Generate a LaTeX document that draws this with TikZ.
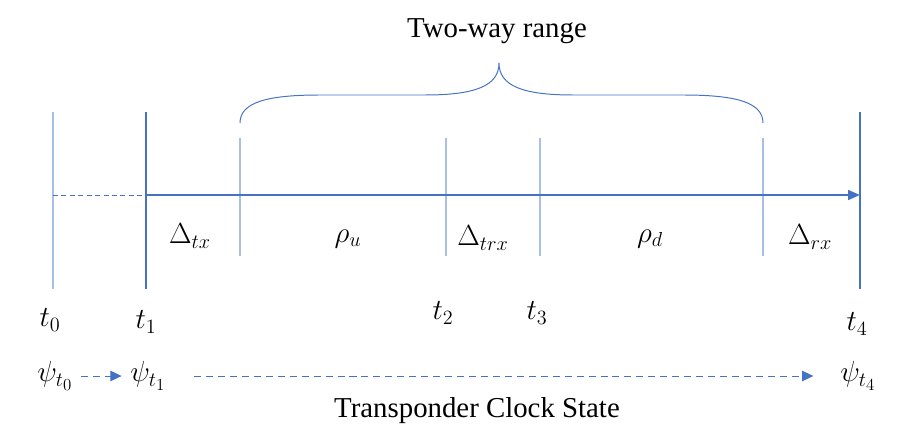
\documentclass[tikz,border=0pt]{standalone}
\usepackage{fontspec}
\setmainfont{Liberation Serif}
\usetikzlibrary{arrows.meta}
\definecolor{axisblue}{HTML}{4472C4}
\definecolor{tickblue}{HTML}{A9BFE6}
\begin{document}
\begin{tikzpicture}
    [%%%%%%%%%%%%%%%%%%%%%%%%%%%%%%
        x=0.025cm, y=-0.025cm,
        mainline/.style={draw=axisblue, line width=1.4pt},
        tickline/.style={draw=tickblue, line width=1.2pt},
        braceline/.style={draw=axisblue, line width=0.7pt},
        dashline/.style={draw=axisblue, line width=0.7pt, dash pattern=on 5pt off 3.5pt},
        timearrow/.style={draw=axisblue, line width=1.5pt, -{Triangle[length=8.5pt,width=7pt]}},
        statearrow/.style={dashline, -{Triangle[length=8pt,width=7.5pt]}},
        lbl/.style={inner sep=1pt, font=\fontsize{20.74}{24}\selectfont},
        title/.style={inner sep=0pt, anchor=base, font=\fontsize{20.5}{24}\selectfont},
    ]%%%%%%%%%%%%%%%%%%%%%%%%%%%%%%
\useasboundingbox (0,0) rectangle (912,445);

\coordinate (a0) at (53,195);
\coordinate (a1) at (146,195);
\coordinate (a4) at (860,195);

\draw[tickline] (53,112) -- (53,289);
\draw[mainline] (146,112) -- (146,289);
\draw[mainline] (860,112) -- (860,289);
\draw[tickline] (240,138) -- (240,256);
\draw[tickline] (446,138) -- (446,256);
\draw[tickline] (540,138) -- (540,256);
\draw[tickline] (763,138) -- (763,256);

\draw[axisblue, line width=0.6pt, dash pattern=on 3.5pt off 2.5pt] (a0) -- (a1);
\draw[timearrow] (a1) -- (a4);

% brace over the two-way range
\draw[braceline] (240,123) .. controls (240,102) and (268,95) .. (320,95)
    -- (425,95) .. controls (475,95) and (499,86) .. (499,63)
    .. controls (499,86) and (523,95) .. (573,95)
    -- (683,95) .. controls (735,95) and (763,102) .. (763,123);
\node[title] (range) at (497,38) {Two-way range};

\node[lbl] (dtx) at (190,236) {$\Delta_{tx}$};
\node[lbl] (rhou) at (348,239) {$\rho_u$};
\node[lbl] (dtrx) at (483,238) {$\Delta_{trx}$};
\node[lbl] (rhod) at (650,239) {$\rho_d$};
\node[lbl] (drx) at (810,237) {$\Delta_{rx}$};

\node[lbl] (t0) at (50,320) {$t_0$};
\node[lbl] (t1) at (146,322) {$t_1$};
\node[lbl] (t2) at (443,313) {$t_2$};
\node[lbl] (t3) at (537,313) {$t_3$};
\node[lbl] (t4) at (857,324) {$t_4$};

\node[lbl] (psi0) at (55,376) {$\psi_{t_0}$};
\node[lbl] (psi1) at (148,376) {$\psi_{t_1}$};
\node[lbl] (psi4) at (858,376) {$\psi_{t_4}$};

\draw[statearrow, shorten <=5pt, shorten >=5pt] (psi0) -- (psi1);
\draw[statearrow, shorten <=19pt, shorten >=18pt] (psi1) -- (psi4);
\node[title] (clock) at (477,417) {Transponder Clock State};
\end{tikzpicture}
\end{document}
